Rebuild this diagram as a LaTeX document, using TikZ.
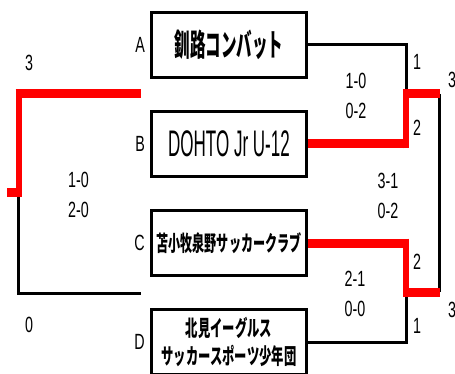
\documentclass[tikz,border=0pt]{standalone}
\usepackage{fontspec}
\usetikzlibrary{positioning}
\newfontfamily\jpfont[FakeStretch=0.56]{Noto Sans CJK JP}
\newfontfamily\jpnarrow[FakeStretch=0.5]{Noto Sans CJK JP}
\newfontfamily\numfont[FakeStretch=0.65]{Liberation Sans}
\newfontfamily\latfont[FakeStretch=0.46]{Liberation Sans}
\tikzstyle{team} = [rectangle, draw=black, line width=3pt, fill=white, minimum width=155pt, minimum height=65pt, inner sep=0pt, align=center]
\tikzstyle{tag} = [inner sep=0pt, font=\numfont\fontsize{22}{26}\selectfont]
\tikzstyle{score} = [inner sep=0pt, align=center, font=\numfont\fontsize{22}{30}\selectfont]
\tikzstyle{win} = [draw=red, line width=9pt]
\tikzstyle{winup} = [draw=red, line width=6pt]
\tikzstyle{lose} = [draw=black, line width=3pt]

\begin{document}
\begin{tikzpicture}[x=1pt, y=-1pt, node distance=99pt]
      \useasboundingbox (0,0) rectangle (455,374);
      \node (teamA) [team, font=\jpnarrow\bfseries\fontsize{31}{33}\selectfont] at (229,45) {釧路コンバット};
      \node (teamB) [team, below of=teamA, font=\latfont\fontsize{37}{40}\selectfont] {DOHTO Jr U-12};
      \node (teamC) [team, below of=teamB, font=\jpfont\bfseries\fontsize{21.6}{26}\selectfont] {苫小牧泉野サッカークラブ};
      \node (teamD) [team, below of=teamC, font=\jpfont\bfseries\fontsize{22}{28}\selectfont] {北見イーグルス\\サッカースポーツ少年団};

      \node (tagA) [tag, left=5pt of teamA] {A};
      \node (tagB) [tag, left=5pt of teamB] {B};
      \node (tagC) [tag, left=5pt of teamC] {C};
      \node (tagD) [tag, left=5pt of teamD] {D};

      \coordinate (bB) at (406,144);
      \coordinate (cC) at (406,243);
      \coordinate (ab) at (406,94);
      \coordinate (cd) at (406,292);
      \coordinate (abw) at (439,94);
      \coordinate (cdw) at (439,292);
      \coordinate (lt) at (18.5,94);
      \coordinate (lm) at (18.5,193);
      \coordinate (lb) at (18.5,293);
      \coordinate (ltEnd) at (141,94);
      \coordinate (lbEnd) at (141,293);
      \coordinate (lstub) at (7,193);

      \draw [lose] (teamA.east) -| (ab);
      \draw [lose] (teamD.east) -| (cd);
      \draw [lose] (abw) -- (cdw);
      \draw [lose] (lm) -- (lb) -- (lbEnd);
      \draw [win] (teamB.east) -- ([xshift=3pt]bB);
      \draw [winup] ([yshift=-4.5pt]bB) -- ([yshift=4.5pt]ab);
      \draw [win] ([xshift=-3pt]ab) -- ([xshift=1pt]abw);
      \draw [win] (teamC.east) -- ([xshift=3pt]cC);
      \draw [winup] ([yshift=4.5pt]cC) -- ([yshift=-4.5pt]cd);
      \draw [win] ([xshift=-3pt]cd) -- ([xshift=1pt]cdw);
      \draw [win] ([xshift=-3pt]lt) -- (ltEnd);
      \draw [winup] ([yshift=4.5pt]lt) -- ([yshift=-4.5pt]lm);
      \draw [win] (lstub) -- ([xshift=3pt]lm);

      \node (sL) [score] at (78.5,194.5) {1-0\\2-0};
      \node (sAB) [score] at (356,95.5) {1-0\\0-2};
      \node (sF) [score] at (388,195.5) {3-1\\0-2};
      \node (sCD) [score] at (355,294) {2-1\\0-0};

      \node (gA) [tag] at (417,62) {1};
      \node (gB) [tag] at (417,128) {2};
      \node (gC) [tag] at (417,262) {2};
      \node (gD) [tag] at (417,326) {1};
      \node (gT) [tag] at (452,80) {3};
      \node (gU) [tag] at (452,310) {3};
      \node (gL) [tag] at (29,63) {3};
      \node (gM) [tag] at (29,325) {0};
    \end{tikzpicture}
\end{document}
